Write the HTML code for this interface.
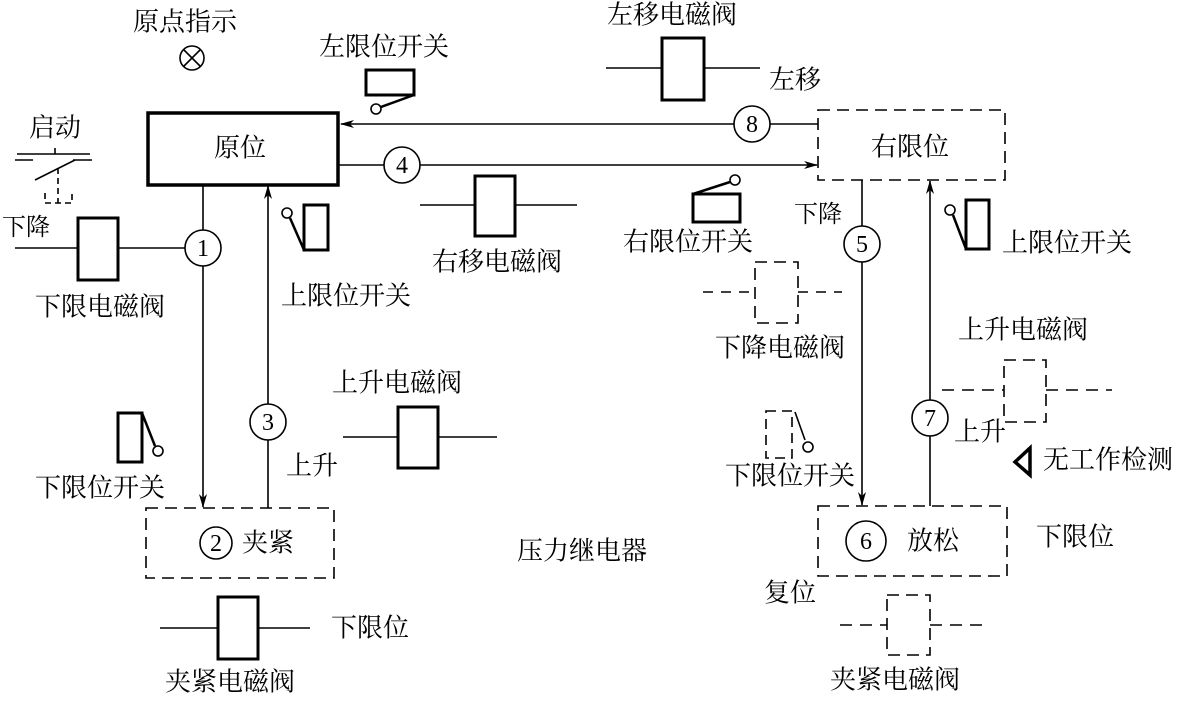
<!DOCTYPE html>
<html><head><meta charset="utf-8"><style>
html,body{margin:0;padding:0;background:#fff;}
svg text{font-family:"Liberation Serif","Noto Serif CJK SC",serif;fill:#000;}
</style></head><body>
<svg width="1193" height="696" viewBox="0 0 1193 696" xmlns="http://www.w3.org/2000/svg">
<defs><marker id="a" markerWidth="14" markerHeight="8" refX="13" refY="4" orient="auto" markerUnits="userSpaceOnUse"><path d="M0,0 L14,4 L0,8 L4,4 Z" fill="#000"/></marker></defs>
<g stroke="#000" stroke-width="1.6" fill="none">
<rect x="148" y="113" width="190" height="72" stroke-width="3.5"/>
<line x1="734" y1="124" x2="341" y2="124" marker-end="url(#a)"/>
<circle cx="752" cy="124" r="18"/>
<line x1="770" y1="124" x2="818" y2="124"/>
<line x1="338" y1="165" x2="384" y2="165"/>
<circle cx="402" cy="165" r="18"/>
<line x1="420" y1="165" x2="817" y2="165" marker-end="url(#a)"/>
<line x1="420" y1="205" x2="577" y2="205"/>
<rect x="475" y="176" width="40" height="60" stroke-width="3" fill="#fff"/>
<line x1="606" y1="68" x2="760" y2="68"/>
<rect x="662" y="38" width="42" height="62" stroke-width="3" fill="#fff"/>
<rect x="366" y="70" width="48" height="25" stroke-width="3"/>
<line x1="414" y1="95" x2="381" y2="107" stroke-width="2.5"/>
<circle cx="376" cy="109" r="5"/>
<circle cx="192" cy="58" r="12"/>
<line x1="184" y1="50" x2="200" y2="66"/><line x1="200" y1="50" x2="184" y2="66"/>
<line x1="17" y1="154" x2="90" y2="154"/>
<line x1="55" y1="148" x2="55" y2="154"/>
<line x1="15" y1="160" x2="33" y2="160"/>
<line x1="73" y1="160" x2="92" y2="160"/>
<line x1="35" y1="180" x2="75" y2="160"/>
<line x1="58" y1="168" x2="58" y2="203" stroke-dasharray="6,4"/>
<path d="M45,193 V203 H72 V193" stroke-dasharray="6,4"/>
<line x1="15" y1="248" x2="185" y2="248"/>
<rect x="78" y="218" width="40" height="62" stroke-width="3" fill="#fff"/>
<circle cx="203" cy="248" r="18" fill="#fff"/>
<line x1="203" y1="185" x2="203" y2="230"/>
<line x1="203" y1="266" x2="203" y2="507" marker-end="url(#a)"/>
<line x1="268" y1="508" x2="268" y2="440"/>
<circle cx="268" cy="422" r="18"/>
<line x1="268" y1="404" x2="268" y2="186" marker-end="url(#a)"/>
<rect x="304" y="205" width="24" height="45" stroke-width="3"/>
<line x1="304" y1="250" x2="290" y2="218" stroke-width="2.5"/>
<circle cx="287" cy="213" r="5"/>
<line x1="343" y1="437" x2="497" y2="437"/>
<rect x="398" y="407" width="40" height="61" stroke-width="3" fill="#fff"/>
<rect x="118" y="413" width="24" height="49" stroke-width="3"/>
<line x1="142" y1="413" x2="155" y2="446" stroke-width="2.5"/>
<circle cx="158" cy="451" r="5"/>
<rect x="146" y="508" width="188" height="70" stroke-dasharray="12,7"/>
<circle cx="216" cy="543" r="16"/>
<line x1="160" y1="628" x2="310" y2="628"/>
<rect x="218" y="597" width="40" height="62" stroke-width="3" fill="#fff"/>
<rect x="818" y="110" width="187" height="70" stroke-dasharray="12,7"/>
<rect x="693" y="194" width="47" height="28" stroke-width="3"/>
<line x1="693" y1="194" x2="730" y2="182" stroke-width="2.5"/>
<circle cx="735" cy="180" r="5"/>
<line x1="862" y1="180" x2="862" y2="226"/>
<circle cx="862" cy="244" r="18"/>
<line x1="862" y1="262" x2="862" y2="505" marker-end="url(#a)"/>
<line x1="930" y1="506" x2="930" y2="436"/>
<circle cx="930" cy="418" r="18"/>
<line x1="930" y1="400" x2="930" y2="181" marker-end="url(#a)"/>
<rect x="966" y="200" width="23" height="49" stroke-width="3"/>
<line x1="966" y1="249" x2="953" y2="215" stroke-width="2.5"/>
<circle cx="950" cy="210" r="5"/>
<line x1="703" y1="292" x2="755" y2="292" stroke-dasharray="10,8"/>
<line x1="798" y1="292" x2="842" y2="292" stroke-dasharray="10,8"/>
<rect x="755" y="262" width="43" height="61" stroke-dasharray="12,7"/>
<line x1="942" y1="390" x2="1004" y2="390" stroke-dasharray="12,8"/>
<line x1="1046" y1="390" x2="1112" y2="390" stroke-dasharray="12,8"/>
<rect x="1004" y="360" width="42" height="62" stroke-dasharray="12,7"/>
<path d="M1030,448 V475 L1015,462 Z" stroke-width="3.5"/>
<rect x="766" y="411" width="26" height="47" stroke-dasharray="10,6"/>
<line x1="795" y1="412" x2="805" y2="440"/>
<circle cx="808" cy="447" r="5"/>
<rect x="818" y="506" width="189" height="70" stroke-dasharray="12,7"/>
<circle cx="866" cy="541" r="20"/>
<line x1="840" y1="625" x2="887" y2="625" stroke-dasharray="12,8"/>
<line x1="930" y1="625" x2="985" y2="625" stroke-dasharray="12,8"/>
<rect x="887" y="595" width="43" height="60" stroke-dasharray="12,7"/>
</g>
<g font-size="26" text-anchor="middle" dominant-baseline="central">
<text x="185" y="22">原点指示</text>
<text x="384" y="47">左限位开关</text>
<text x="240" y="148">原位</text>
<text x="55" y="128">启动</text>
<text x="26" y="228" font-size="24">下降</text>
<text x="100" y="307">下限电磁阀</text>
<text x="346" y="296">上限位开关</text>
<text x="497" y="262">右移电磁阀</text>
<text x="672" y="15">左移电磁阀</text>
<text x="795" y="80">左移</text>
<text x="910" y="147">右限位</text>
<text x="688" y="242">右限位开关</text>
<text x="818" y="215" font-size="24">下降</text>
<text x="1067" y="243">上限位开关</text>
<text x="780" y="348">下降电磁阀</text>
<text x="1023" y="330">上升电磁阀</text>
<text x="980" y="432">上升</text>
<text x="1108" y="460">无工作检测</text>
<text x="790" y="476">下限位开关</text>
<text x="933" y="541">放松</text>
<text x="1075" y="537">下限位</text>
<text x="790" y="593">复位</text>
<text x="895" y="680">夹紧电磁阀</text>
<text x="397" y="383">上升电磁阀</text>
<text x="312" y="466">上升</text>
<text x="100" y="488">下限位开关</text>
<text x="268" y="543">夹紧</text>
<text x="582" y="551">压力继电器</text>
<text x="370" y="628">下限位</text>
<text x="230" y="682">夹紧电磁阀</text>
<text x="203" y="249" font-size="24">1</text>
<text x="216" y="544" font-size="24">2</text>
<text x="268" y="423" font-size="24">3</text>
<text x="402" y="166" font-size="24">4</text>
<text x="862" y="245" font-size="24">5</text>
<text x="866" y="542" font-size="24">6</text>
<text x="930" y="419" font-size="24">7</text>
<text x="752" y="125" font-size="24">8</text>
</g>
</svg>
</body></html>
